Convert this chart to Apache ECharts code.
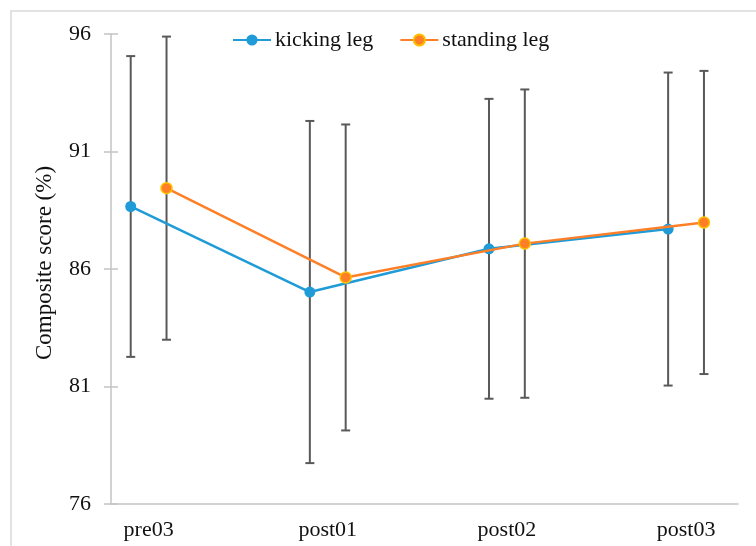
<!DOCTYPE html>
<html>
<head>
<meta charset="utf-8">
<script src="https://cdn.jsdelivr.net/npm/echarts@6/dist/echarts.min.js"></script>
<style>
  html, body { margin: 0; padding: 0; background: #ffffff; }
  #chart { width: 756px; height: 546px; }
</style>
</head>
<body>
<div id="chart"></div>
<script>
// ---- data ----
const categories = ['pre03', 'post01', 'post02', 'post03'];
const kickingMean = [88.66, 85.02, 86.86, 87.70];
const kickingSD = [6.40, 7.28, 6.38, 6.66];
const standingMean = [89.44, 85.64, 87.08, 87.98];
const standingSD = [6.45, 6.51, 6.56, 6.45];
const yTicks = [76, 81, 86, 91, 96];
const seriesNames = ['kicking leg', 'standing leg'];

// ---- layout / style ----
const FONT = 'Liberation Serif';
const FS = 22;
const BLUE = '#1f9bd7';
const ORANGE = '#ff7f27';
const GOLD = '#ffc000';
const BAR = '#595959';
const AXIS = '#c3c3c3';
const OFFSET = 0.1; // horizontal shift of each series around its category

const xPos = categories.map((c, i) => i + 1);
const kickingPts = kickingMean.map((v, i) => [xPos[i] - OFFSET, v]);
const standingPts = standingMean.map((v, i) => [xPos[i] + OFFSET, v]);
const kickingErr = kickingMean.map((v, i) => [xPos[i] - OFFSET, v - kickingSD[i], v + kickingSD[i]]);
const standingErr = standingMean.map((v, i) => [xPos[i] + OFFSET, v - standingSD[i], v + standingSD[i]]);

function renderErr(params, api) {
  const x = api.value(0), lo = api.value(1), hi = api.value(2);
  const pLo = api.coord([x, lo]);
  const pHi = api.coord([x, hi]);
  const cap = 4.5;
  const style = { stroke: BAR, lineWidth: 2, fill: null };
  return {
    type: 'group',
    children: [
      { type: 'line', shape: { x1: pLo[0], y1: pLo[1], x2: pHi[0], y2: pHi[1] }, style: style },
      { type: 'line', shape: { x1: pLo[0] - cap, y1: pLo[1], x2: pLo[0] + cap, y2: pLo[1] }, style: style },
      { type: 'line', shape: { x1: pHi[0] - cap, y1: pHi[1], x2: pHi[0] + cap, y2: pHi[1] }, style: style }
    ]
  };
}

const chart = echarts.init(document.getElementById('chart'), null, { renderer: 'canvas' });
chart.setOption({
  animation: false,
  backgroundColor: '#ffffff',
  textStyle: { fontFamily: FONT, color: '#111' },
  graphic: [{
    type: 'rect', z: -10, silent: true,
    shape: { x: 11, y: 11, width: 800, height: 600 },
    style: { fill: null, stroke: '#d9d9d9', lineWidth: 1.5 }
  }],
  legend: {
    data: seriesNames,
    left: 232, top: 29, padding: 0,
    itemWidth: 38, itemHeight: 14, itemGap: 26,
    textStyle: { fontFamily: FONT, fontSize: FS, color: '#111', padding: [0, 0, 0, -1] }
  },
  grid: { left: 111, right: 18, top: 34, bottom: 42, containLabel: false },
  xAxis: {
    type: 'value', min: 0.79, max: 4.29,
    axisLine: { show: true, onZero: false, lineStyle: { color: AXIS, width: 1.5 } },
    axisTick: { show: false },
    splitLine: { show: false },
    axisLabel: {
      customValues: xPos,
      formatter: v => categories[Math.round(v) - 1] || '',
      fontFamily: FONT, fontSize: FS, color: '#111', margin: 15
    }
  },
  yAxis: [{
    type: 'value', min: 76, max: 96,
    name: 'Composite score (%)',
    nameLocation: 'middle', nameGap: 55, nameRotate: 90,
    nameTextStyle: { fontFamily: FONT, fontSize: 23, color: '#111', padding: [0, 0, 0, 12] },
    axisLine: { show: true, onZero: false, lineStyle: { color: AXIS, width: 1.5 } },
    axisTick: { show: true, customValues: yTicks, length: 7, lineStyle: { color: AXIS, width: 1.5 } },
    splitLine: { show: false },
    axisLabel: { customValues: yTicks, fontFamily: FONT, fontSize: FS, color: '#111', margin: 20 }
  }, {
    type: 'value', min: 76, max: 96, position: 'left',
    axisLine: { show: false },
    axisTick: { show: true, inside: true, customValues: yTicks, length: 7, lineStyle: { color: AXIS, width: 1.5 } },
    axisLabel: { show: false },
    splitLine: { show: false }
  }],
  series: [
    { type: 'custom', name: 'err-k', renderItem: renderErr, data: kickingErr, z: 1, encode: { x: 0, y: [1, 2] } },
    { type: 'custom', name: 'err-s', renderItem: renderErr, data: standingErr, z: 1, encode: { x: 0, y: [1, 2] } },
    {
      type: 'line', name: seriesNames[0], data: kickingPts, z: 3,
      symbol: 'circle', symbolSize: 11, showSymbol: true,
      lineStyle: { color: BLUE, width: 2.5 },
      itemStyle: { color: BLUE }
    },
    {
      type: 'line', name: seriesNames[1], data: standingPts, z: 4,
      symbol: 'circle', symbolSize: 11, showSymbol: true,
      lineStyle: { color: ORANGE, width: 2.5 },
      itemStyle: { color: ORANGE, borderColor: GOLD, borderWidth: 1.5 }
    }
  ]
});
</script>
</body>
</html>
